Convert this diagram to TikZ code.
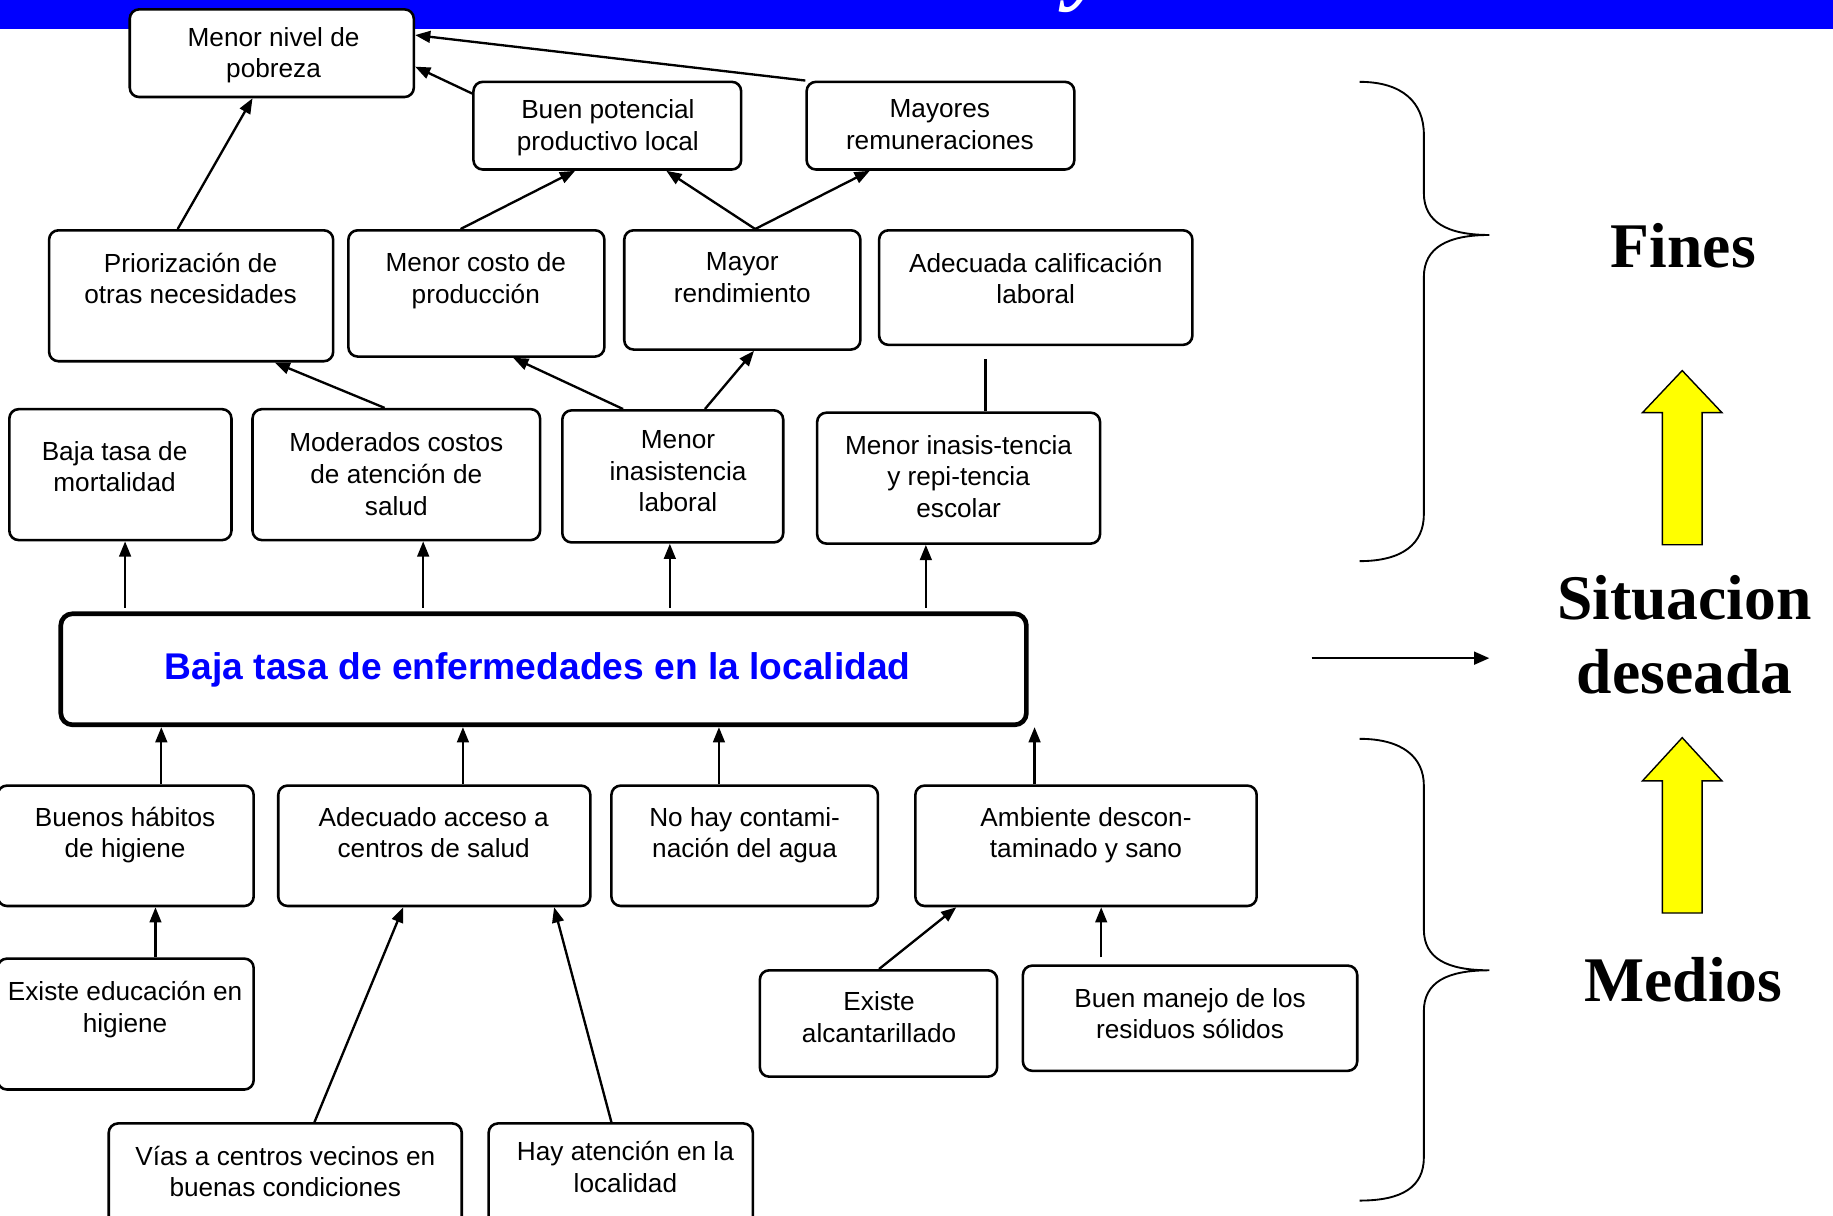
\documentclass[tikz,border=0pt]{standalone}
\usepackage{fontspec}
\setmainfont{Liberation Sans}
\newfontfamily\serifb{Liberation Serif}
\usetikzlibrary{arrows.meta,calc}
\definecolor{barblue}{RGB}{0,0,255}
\definecolor{ylw}{RGB}{255,255,0}
\newcommand\mkbox[8]{%
  \node[bx, minimum width={(#4-(#2))*0.5pt}, minimum height={(#5-(#3))*0.5pt}] (#1) at ({(#2+#4)/2},{(#3+#5)/2}) {};
  \node[txt, anchor=north] (#1t) at (#6,{#7-8}) {#8};
}
\begin{document}
\begin{tikzpicture}[x=0.5pt,y=-0.5pt,
  bx/.style={draw, line width=1.1pt, rounded corners=4pt, inner sep=0pt, fill=white},
  txt/.style={font=\fontsize{11.2}{13.5}\selectfont, align=center, inner sep=0pt},
  arr/.style={line width=1pt, -{Triangle[length=6.5pt,width=5pt]}},
  ln/.style={line width=1pt},
  big/.style={font=\serifb\bfseries\fontsize{27.2}{32}\selectfont, align=center, inner sep=0pt},
  brace/.style={line width=0.8pt},
  yarrow/.style={fill=ylw, draw=black, line width=0.6pt}]
\useasboundingbox (0,0) rectangle (1568,1040);

% top bar
\begin{scope}
\clip (0,0) rectangle (1568,25);
\fill[barblue] (0,0) rectangle (1568,25);
\node[font=\serifb\bfseries\itshape\fontsize{40}{40}\selectfont, text=white, anchor=base, inner sep=0pt] (ttl) at (932,-6) {y};
\end{scope}

% boxes
\mkbox{pob}{111}{8}{354}{83}{234}{31}{Menor nivel de\\pobreza}
\mkbox{bpot}{405}{70}{634}{145}{520}{93}{Buen potencial\\productivo local}
\mkbox{mrem}{690}{70}{919}{145}{804}{93}{Mayores\\remuneraciones}
\mkbox{prio}{42}{197}{285}{309}{163}{224}{Priorización de\\otras necesidades}
\mkbox{mcos}{298}{197}{517}{305}{407}{224}{Menor costo de\\producción}
\mkbox{mren}{534}{197}{736}{299}{635}{224}{Mayor\\rendimiento}
\mkbox{acal}{752}{197}{1020}{295}{886}{224}{Adecuada calificación\\laboral}
\mkbox{mort}{8}{350}{198}{462}{98}{385}{Baja tasa de\\mortalidad}
\mkbox{mod}{216}{350}{462}{462}{339}{378}{Moderados costos\\de atención de\\salud}
\mkbox{minl}{481}{351}{670}{464}{580}{376}{Menor\\inasistencia\\laboral}
\mkbox{mine}{699}{353}{941}{465}{820}{380}{Menor inasis-tencia\\y repi-tencia\\escolar}
\mkbox{hab}{-2}{672}{217}{775}{107}{698}{Buenos hábitos\\de higiene}
\mkbox{acc}{238}{672}{505}{775}{371}{698}{Adecuado acceso a\\centros de salud}
\mkbox{agua}{523}{672}{751}{775}{637}{698}{No hay contami-\\nación del agua}
\mkbox{amb}{783}{672}{1075}{775}{929}{698}{Ambiente descon-\\taminado y sano}
\mkbox{edu}{-2}{820}{217}{932}{107}{847}{Existe educación en\\higiene}
\mkbox{alc}{650}{830}{853}{921}{752}{856}{Existe\\alcantarillado}
\mkbox{res}{875}{826}{1161}{916}{1018}{853}{Buen manejo de los\\residuos sólidos}
\mkbox{vias}{93}{961}{395}{1060}{244}{988}{Vías a centros vecinos en\\buenas condiciones}
\mkbox{hay}{418}{961}{644}{1060}{535}{984}{Hay atención en la\\localidad}

% central box
\node[draw, line width=2pt, rounded corners=5pt, minimum width=413pt, minimum height=47.5pt] (central) at (465,572.5) {};
\node[text=barblue, font=\bfseries\fontsize{15.9}{19}\selectfont, inner sep=0pt] (centralt) at (460,573)
      {Baja tasa de enfermedades en la localidad};

% connectors upper part
\draw[arr] (prio.north -| 152,0) -- (pob.south -| 216,0);
\draw[arr] (bpot.west |- 0,80) -- (pob.east |- 0,57);
\draw[arr] (mrem.north west) -- (pob.east |- 0,30);
\draw[arr] (mcos.north -| 394,0) -- (bpot.south -| 492,0);
\draw[arr] (mren.north -| 646,0) -- (bpot.south -| 570,0);
\draw[arr] (mren.north -| 646,0) -- (mrem.south -| 744,0);
\draw[arr] (mod.north -| 329,0) -- (prio.south -| 235,0);
\draw[arr] (minl.north -| 533,0) -- (mcos.south -| 439,0);
\draw[arr] (minl.north -| 603,0) -- (mren.south -| 645,0);
\draw[ln] (mine.north -| 843,0) -- ($(acal.south -| 843,0)+(0,11)$);

\draw[arr] ($(central.north -| 107,0)+(0,-3)$) -- (mort.south -| 107,0);
\draw[arr] ($(central.north -| 362,0)+(0,-3)$) -- (mod.south -| 362,0);
\draw[arr] ($(central.north -| 573,0)+(0,-3)$) -- (minl.south -| 573,0);
\draw[arr] ($(central.north -| 792,0)+(0,-3)$) -- (mine.south -| 792,0);

% connectors lower part
\draw[arr] (hab.north -| 138,0) -- (central.south -| 138,0);
\draw[arr] (acc.north -| 396,0) -- (central.south -| 396,0);
\draw[arr] (agua.north -| 615,0) -- (central.south -| 615,0);
\draw[arr] (amb.north -| 885,0) -- (central.south -| 885,0);
\draw[arr] (edu.north -| 133,0) -- (hab.south -| 133,0);
\draw[arr] (vias.north -| 269,0) -- (acc.south -| 345,0);
\draw[arr] (hay.north -| 523,0) -- (acc.south -| 474,0);
\draw[arr] (alc.north -| 752,0) -- (amb.south -| 818,0);
\draw[arr] ($(res.north -| 942,0)+(0,-6)$) -- (amb.south -| 942,0);

% braces
\draw[brace] (1163,70) .. controls (1200,70) and (1218,88) .. (1218,115) -- (1218,165)
  .. controls (1218,190) and (1238,201) .. (1274,201)
  .. controls (1238,201) and (1218,212) .. (1218,237) -- (1218,440)
  .. controls (1218,465) and (1200,480) .. (1163,480);
\draw[brace] (1163,632) .. controls (1200,632) and (1218,648) .. (1218,672) -- (1218,795)
  .. controls (1218,820) and (1238,830) .. (1274,830)
  .. controls (1238,830) and (1218,840) .. (1218,865) -- (1218,990)
  .. controls (1218,1015) and (1200,1027) .. (1163,1027);

% right labels
\node[big] (fines) at (1440,210) {Fines};
\node[big] (situ) at (1441,543) {Situacion\\deseada};
\node[big] (medios) at (1440,838) {Medios};

% horizontal arrow
\coordinate (hs) at (1122,563);
\coordinate (he) at (1274,563);
\draw[line width=0.8pt, -{Triangle[length=6.5pt,width=5.5pt]}] (hs) -- (he);

% yellow arrows
\draw[yarrow] (1422,466) -- (1422,353) -- (1405,353) -- (1439,317) -- (1473,353) -- (1456,353) -- (1456,466) -- cycle;
\draw[yarrow] (1422,781) -- (1422,668) -- (1405,668) -- (1439,631) -- (1473,668) -- (1456,668) -- (1456,781) -- cycle;
\end{tikzpicture}
\end{document}
